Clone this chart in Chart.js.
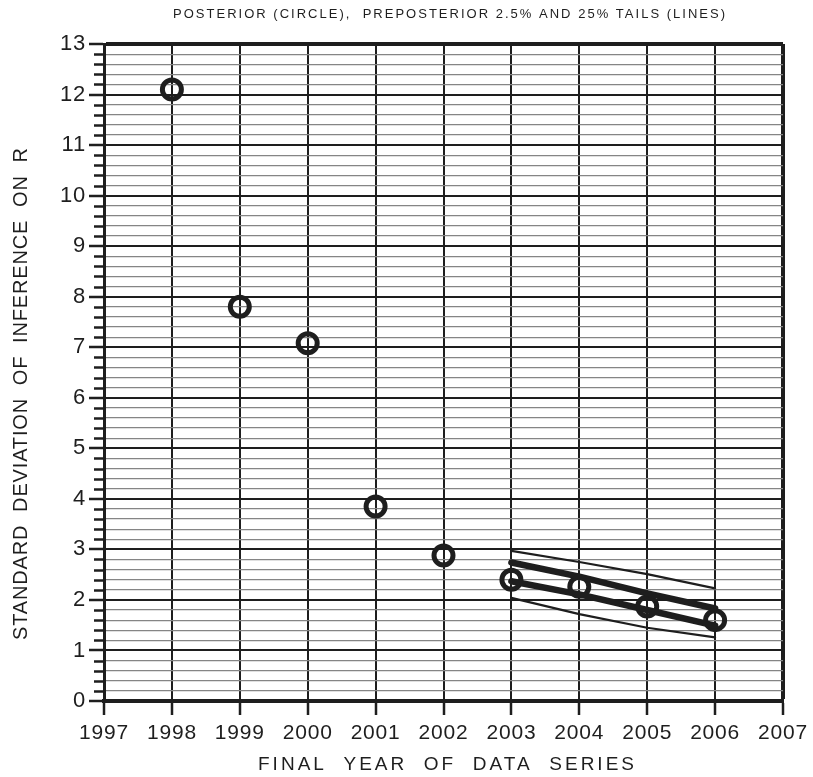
<!DOCTYPE html>
<html>
<head>
<meta charset="utf-8">
<script src="https://cdn.jsdelivr.net/npm/chart.js@4/dist/chart.umd.min.js"></script>
<style>
  html, body { margin: 0; padding: 0; background: #ffffff; }
  #wrap { width: 813px; height: 777px; position: relative; }
</style>
</head>
<body>
<div id="wrap"><canvas id="c" width="813" height="777"></canvas></div>
<script>
// Final year of each data series and the posterior standard deviation (circles)
const years = [1998, 1999, 2000, 2001, 2002, 2003, 2004, 2005, 2006];
const posteriorSD = [12.1, 7.8, 7.08, 3.85, 2.88, 2.4, 2.26, 1.87, 1.6];

// Preposterior tails, drawn as lines over the last four years
const tailYears = [2003, 2004, 2005, 2006];
const tail2_5Upper = [2.97, 2.75, 2.51, 2.23];
const tail25Upper = [2.74, 2.46, 2.13, 1.83];
const tail25Lower = [2.37, 2.11, 1.80, 1.49];
const tail2_5Lower = [2.04, 1.72, 1.45, 1.26];

// Axis ranges and tick spacing
const xRange = [1997, 2007];
const yRange = [0, 13];
const yMinorStep = 0.2;

const titleText = 'POSTERIOR (CIRCLE),  PREPOSTERIOR 2.5% AND 25% TAILS (LINES)';
const xTitleText = 'FINAL  YEAR  OF  DATA  SERIES';
const yTitleText = 'STANDARD  DEVIATION  OF  INFERENCE  ON  R';

const INK = '#1e1e1e';
const FONT = '"Liberation Sans", Arial, Helvetica, sans-serif';

const isWhole = v => Math.abs(v - Math.round(v)) < 1e-6;
const pts = (xs, ys) => xs.map((x, i) => ({ x: x, y: ys[i] }));

const lineSet = (data, width) => ({
  type: 'line',
  data: data,
  borderColor: INK,
  borderWidth: width,
  pointRadius: 0,
  fill: false,
  tension: 0,
  borderCapStyle: 'round',
  borderJoinStyle: 'round'
});

// Draws text with a letter spacing that stretches it to a given width
function spacedText(ctx, text, cx, cy, width, font, angle) {
  ctx.save();
  ctx.font = font;
  ctx.letterSpacing = '0px';
  const natural = ctx.measureText(text).width;
  const gap = Math.max(0, (width - natural) / (text.length - 1));
  ctx.letterSpacing = gap + 'px';
  ctx.translate(cx, cy);
  if (angle) ctx.rotate(angle);
  ctx.fillStyle = INK;
  ctx.textAlign = 'left';
  ctx.textBaseline = 'middle';
  ctx.fillText(text, -width / 2, 0);
  ctx.restore();
}

const frame = {
  id: 'frame',
  beforeDraw(chart) {
    chart.ctx.letterSpacing = '0.8px';
  },
  afterDraw(chart) {
    const ctx = chart.ctx;
    const area = chart.chartArea;
    const y = chart.scales.y;
    // short minor tick marks on the left axis
    ctx.save();
    ctx.strokeStyle = INK;
    ctx.lineWidth = 2.5;
    y.ticks.forEach(t => {
      if (isWhole(t.value)) return;
      const py = Math.round(y.getPixelForValue(t.value)) + 0.5;
      ctx.beginPath();
      ctx.moveTo(area.left - 10, py);
      ctx.lineTo(area.left, py);
      ctx.stroke();
    });
    ctx.restore();

    spacedText(ctx, titleText, 449, 14, 552, '13px ' + FONT, 0);
    spacedText(ctx, xTitleText, 446, 765, 376, '19px ' + FONT, 0);
    spacedText(ctx, yTitleText, 21, 394, 492, '20px ' + FONT, -Math.PI / 2);
  }
};

new Chart(document.getElementById('c'), {
  type: 'scatter',
  data: {
    datasets: [
      lineSet(pts(tailYears, tail2_5Upper), 2.2),
      lineSet(pts(tailYears, tail25Upper), 6.5),
      lineSet(pts(tailYears, tail25Lower), 6.5),
      lineSet(pts(tailYears, tail2_5Lower), 2.2),
      {
        type: 'scatter',
        data: pts(years, posteriorSD),
        pointStyle: 'circle',
        pointRadius: 9.5,
        pointBorderWidth: 5,
        borderColor: INK,
        backgroundColor: 'rgba(0,0,0,0)',
        pointBackgroundColor: 'rgba(0,0,0,0)',
        pointBorderColor: INK
      }
    ]
  },
  options: {
    responsive: false,
    animation: false,
    devicePixelRatio: 1,
    layout: { padding: { top: 44, right: 30, left: 0, bottom: 0 } },
    plugins: {
      legend: { display: false },
      title: { display: false },
      tooltip: { enabled: false }
    },
    scales: {
      x: {
        type: 'linear',
        min: xRange[0],
        max: xRange[1],
        afterFit(scale) { scale.height = 76; },
        border: { display: true, color: INK, width: 4 },
        grid: {
          color: INK,
          lineWidth: ctx => (ctx.tick && ctx.tick.value === xRange[1]) ? 4 : 2,
          drawTicks: true,
          tickLength: 14,
          tickColor: INK,
          tickWidth: 2.5
        },
        ticks: {
          stepSize: 1,
          autoSkip: false,
          maxRotation: 0,
          padding: 6,
          color: INK,
          font: { family: FONT, size: 21 },
          callback: v => String(v)
        }
      },
      y: {
        type: 'linear',
        min: yRange[0],
        max: yRange[1],
        afterFit(scale) { scale.width = 104; },
        border: { display: true, color: INK, width: 3 },
        grid: {
          color: ctx => isWhole(ctx.tick.value) ? INK : '#858585',
          lineWidth: ctx => {
            const v = ctx.tick.value;
            if (Math.abs(v - yRange[1]) < 1e-6) return 4;
            return isWhole(v) ? 2 : 1.2;
          },
          drawTicks: true,
          tickLength: 15,
          tickColor: ctx => isWhole(ctx.tick.value) ? INK : 'rgba(0,0,0,0)',
          tickWidth: 2.5
        },
        ticks: {
          stepSize: yMinorStep,
          autoSkip: false,
          padding: 3,
          color: INK,
          font: { family: FONT, size: 22 },
          callback: v => isWhole(v) ? String(Math.round(v)) : ''
        }
      }
    }
  },
  plugins: [frame]
});
</script>
</body>
</html>
